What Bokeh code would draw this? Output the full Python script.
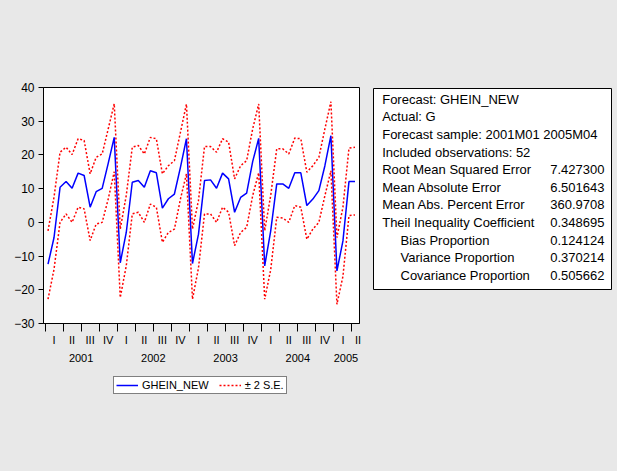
from bokeh.plotting import figure
from bokeh.models import Range1d, FixedTicker, LinearAxis, ColumnDataSource
from bokeh.layouts import row, column
from bokeh.core.properties import value
from bokeh.embed import file_html
from bokeh.resources import INLINE

# ---------------- data ----------------
years = ["2001", "2002", "2003", "2004", "2005"]
quarters = ["I", "II", "III", "IV"]

ghein_new = [
    -12.4, -4.5, 10.4, 12.1, 10.1, 14.6, 13.9, 4.5, 9.1, 10.1, 17.5, 25.2,
    -12.0, -3.0, 11.9, 12.4, 10.4, 15.3, 14.7, 4.2, 7.0, 8.4, 16.3, 24.8,
    -12.2, -3.5, 12.4, 12.6, 10.1, 14.6, 12.9, 3.0, 7.4, 8.7, 18.0, 24.9,
    -12.9, -2.5, 11.4, 11.4, 10.1, 14.7, 14.7, 5.0, 6.9, 9.4, 16.8, 25.7,
    -14.4, -5.5, 12.1, 12.1,
]
upper_2se = [
    -2.5, 7.5, 20.8, 22.3, 20.1, 24.8, 24.3, 14.4, 19.3, 20.3, 27.7, 35.2,
    -2.0, 8.0, 22.3, 22.8, 20.3, 25.2, 24.8, 14.4, 16.8, 18.3, 26.7, 35.1,
    -2.0, 6.5, 22.5, 22.5, 20.8, 24.8, 23.8, 12.9, 16.8, 18.3, 27.7, 35.1,
    -2.5, 8.0, 21.8, 21.8, 20.3, 25.0, 24.8, 14.9, 16.8, 19.3, 27.7, 35.8,
    -4.5, 4.5, 22.0, 22.3,
]
lower_2se = [
    -22.8, -13.9, 0.0, 2.5, 0.0, 4.5, 4.0, -5.4, -0.5, 0.0, 6.9, 15.0,
    -22.3, -12.9, 2.5, 3.0, 0.0, 5.4, 4.5, -5.9, -3.0, -2.0, 6.9, 14.4,
    -22.8, -13.5, 2.5, 2.5, 0.0, 4.5, 3.0, -6.9, -3.0, -1.5, 7.9, 14.7,
    -22.8, -14.0, 1.5, 1.3, 0.0, 5.0, 4.5, -5.0, -2.0, 0.0, 7.9, 15.3,
    -24.3, -16.0, 2.0, 2.2,
]

stat_names = [
    "Forecast: GHEIN_NEW",
    "Actual: G",
    "Forecast sample: 2001M01 2005M04",
    "Included observations: 52",
    "Root Mean Squared Error",
    "Mean Absolute Error",
    "Mean Abs. Percent Error",
    "Theil Inequality Coefficient",
    "Bias Proportion",
    "Variance Proportion",
    "Covariance Proportion",
]
stat_values = ["", "", "", "", "7.427300", "6.501643", "360.9708",
               "0.348695", "0.124124", "0.370214", "0.505662"]
stat_indented = [False] * 8 + [True] * 3

series_labels = ["GHEIN_NEW", "\u00b1 2 S.E."]
y_ticks = [-30, -20, -10, 0, 10, 20, 30, 40]

# ---------------- styling / layout ----------------
FONT = "Liberation Sans"
BG = "#e8e8e8"
BLUE = "#0000ff"
RED = "#ff0000"
n = len(ghein_new)
months = list(range(n))

MAIN_W, MAIN_H = 365, 372
p = figure(width=MAIN_W, height=MAIN_H, output_backend="svg", toolbar_location=None,
           x_range=Range1d(-0.75, n - 0.25), y_range=Range1d(y_ticks[0], y_ticks[-1]),
           min_border_left=43, min_border_right=6, min_border_top=87,
           min_border_bottom=MAIN_H - 87 - 236,
           background_fill_color="white", border_fill_color=BG,
           outline_line_color="black", outline_line_width=1)
p.xgrid.visible = False
p.ygrid.visible = False

p.line(months, ghein_new, line_color=BLUE, line_width=1.5)
p.line(months, upper_2se, line_color=RED, line_width=1.5, line_dash="2 2")
p.line(months, lower_2se, line_color=RED, line_width=1.5, line_dash="2 2")

# quarter axis: labels centred between quarter-boundary ticks
n_q = (n + 2) // 3
q_centers = [min(3 * q + 1, n - 0.5) for q in range(n_q)]
q_bounds = [3 * q - 0.5 for q in range(n_q)]
xa = p.xaxis[0]
xa.ticker = FixedTicker(ticks=q_centers, minor_ticks=q_bounds)
xa.major_label_overrides = {c: quarters[q % 4] for q, c in enumerate(q_centers)}
xa.major_tick_out = 0
xa.major_tick_in = 0
xa.minor_tick_out = 8
xa.minor_tick_in = 0
xa.minor_tick_line_color = "black"
xa.axis_line_color = "black"
xa.major_label_standoff = 2
xa.major_label_text_font = FONT
xa.major_label_text_font_size = "11px"
xa.major_label_text_color = "black"

# year axis
y_centers = []
for k in range(len(years)):
    s = 12 * k
    e = min(12 * k + 12, n)
    y_centers.append((s + e - 1) / 2)
ya2 = LinearAxis(ticker=FixedTicker(ticks=y_centers, minor_ticks=[]),
                 major_label_overrides={c: years[k] for k, c in enumerate(y_centers)},
                 major_tick_out=0, major_tick_in=0, minor_tick_out=0, minor_tick_in=0,
                 axis_line_color=None, major_label_standoff=5,
                 major_label_text_font=FONT, major_label_text_font_size="11px",
                 major_label_text_color="black")
p.add_layout(ya2, "below")

# y axis
yax = p.yaxis[0]
yax.ticker = FixedTicker(ticks=y_ticks, minor_ticks=[])
yax.major_tick_out = 5
yax.major_tick_in = 0
yax.minor_tick_out = 0
yax.minor_tick_in = 0
yax.axis_line_color = "black"
yax.major_label_standoff = 4
yax.major_label_text_font = FONT
yax.major_label_text_font_size = "12px"
yax.major_label_text_color = "black"

# legend strip under the chart: same series drawn off-view, legend inside its frame
LEG_H = 471 - MAIN_H
pl = figure(width=MAIN_W, height=LEG_H, output_backend="svg", toolbar_location=None,
            x_range=Range1d(-0.75, n - 0.25), y_range=Range1d(1000, 1001),
            x_axis_type=None, y_axis_type=None,
            min_border_left=0, min_border_right=0, min_border_top=0, min_border_bottom=0,
            background_fill_color=BG, border_fill_color=BG, outline_line_color=None)
pl.xgrid.visible = False
pl.ygrid.visible = False
pl.line(months, ghein_new, line_color=BLUE, line_width=1.5,
        legend_label=series_labels[0])
pl.line(months, upper_2se, line_color=RED, line_width=1.5, line_dash="2 2",
        legend_label=series_labels[1])
lg = pl.legend[0]
lg.location = (70, LEG_H - 22)
lg.orientation = "horizontal"
lg.border_line_color = "black"
lg.border_line_width = 1
lg.background_fill_color = "white"
lg.background_fill_alpha = 1
lg.label_text_font = FONT
lg.label_text_font_size = "11px"
lg.label_text_color = "black"
lg.glyph_width = 22
lg.glyph_height = 10
lg.label_height = 10
lg.label_standoff = 4
lg.spacing = 10
lg.padding = 2
lg.margin = 0

# statistics box: a second figure whose frame is the box
BOX_W, BOX_H = 238, 201
p2 = figure(width=617 - MAIN_W, height=471, output_backend="svg", toolbar_location=None,
            x_range=Range1d(0, BOX_W), y_range=Range1d(BOX_H, 0),
            x_axis_type=None, y_axis_type=None,
            min_border_left=8, min_border_right=617 - MAIN_W - 8 - BOX_W,
            min_border_top=88, min_border_bottom=471 - 88 - BOX_H,
            background_fill_color="white", border_fill_color=BG,
            outline_line_color="black", outline_line_width=1)
p2.xgrid.visible = False
p2.ygrid.visible = False

row_y0, row_step = 10.8, 17.6
rows_y = [row_y0 + row_step * k for k in range(len(stat_names))]
name_x = [27.0 if ind else 8.7 for ind in stat_indented]
src_names = ColumnDataSource(dict(x=name_x, y=rows_y, text=stat_names))
src_vals = ColumnDataSource(dict(x=[231.0] * len(stat_values), y=rows_y, text=stat_values))
p2.text(x="x", y="y", text="text", source=src_names, text_font=value(FONT),
        text_font_size=value("13px"), text_color="black",
        text_align="left", text_baseline="middle")
p2.text(x="x", y="y", text="text", source=src_vals, text_font=value(FONT),
        text_font_size=value("13px"), text_color="black",
        text_align="right", text_baseline="middle")

left_col = column(p, pl, spacing=0, styles={"background-color": BG})
layout = row(left_col, p2, spacing=0, styles={"background-color": BG})
open("out.html", "w").write(file_html(layout, INLINE))
